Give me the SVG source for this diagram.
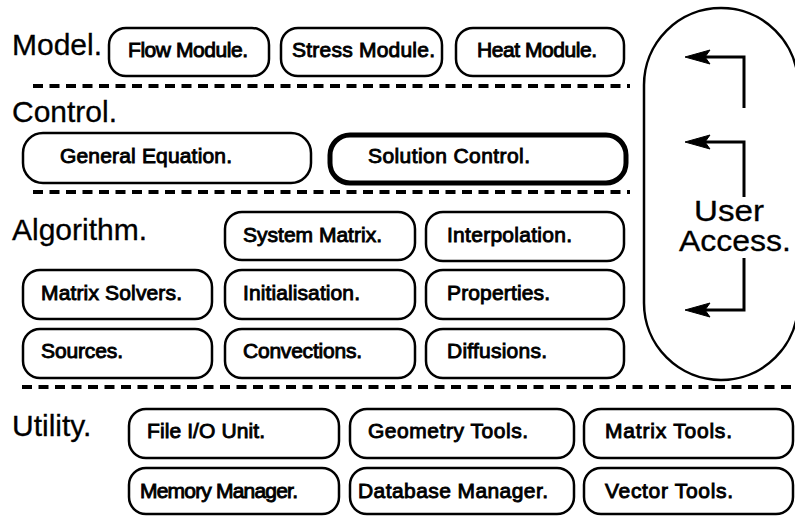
<svg xmlns="http://www.w3.org/2000/svg" xmlns:xlink="http://www.w3.org/1999/xlink" width="795" height="517" viewBox="0 0 795 517">
<defs>
<style>
.bg{fill:#fff}
.box{fill:#fff;stroke:#000;stroke-width:2.5}
.thick{fill:#fff;stroke:#000;stroke-width:5}
.t{font-family:"Liberation Sans",Arial,Helvetica,sans-serif;font-size:21px;fill:#000;stroke:#000;stroke-width:0.9}
.h{font-family:"Liberation Sans",Arial,Helvetica,sans-serif;font-size:30px;fill:#000;stroke:#000;stroke-width:0.3}
.dash{fill:none;stroke:#000;stroke-width:4;stroke-dasharray:10 6.5}
.conn{fill:none;stroke:#000;stroke-width:3}
.head{fill:#000;stroke:#000;stroke-width:1}
</style>
<path id="head" class="head" d="M0,0 L25,-7 L20,0 L25,7 Z"/>
</defs>
<rect class="bg" x="0" y="0" width="795" height="517"/>

<g id="layers">
<text class="h" x="12" y="55">Model.</text>
<text class="h" x="12" y="122">Control.</text>
<text class="h" x="12" y="240">Algorithm.</text>
<text class="h" x="12" y="436">Utility.</text>
<line class="dash" x1="33" y1="86" x2="630" y2="86"/>
<line class="dash" x1="33" y1="192" x2="630" y2="192"/>
<line class="dash" x1="22" y1="387" x2="795" y2="387"/>
</g>

<g id="flow-module"><rect class="box" x="109" y="28" width="160" height="48" rx="17"/><text class="t" x="128" y="57" textLength="120">Flow Module.</text></g>
<g id="stress-module"><rect class="box" x="281" y="28" width="161" height="48" rx="17"/><text class="t" x="292" y="57" textLength="143">Stress Module.</text></g>
<g id="heat-module"><rect class="box" x="456" y="28" width="168" height="48" rx="17"/><text class="t" x="477" y="57" textLength="120">Heat Module.</text></g>

<g id="general-equation"><rect class="box" x="23" y="133" width="288" height="50" rx="20"/><text class="t" x="60" y="163" textLength="172">General Equation.</text></g>
<g id="solution-control"><rect class="thick" x="330" y="135" width="296" height="48" rx="20"/><text class="t" x="368" y="163" textLength="162">Solution Control.</text></g>

<g id="system-matrix"><rect class="box" x="225" y="212" width="190" height="48" rx="17"/><text class="t" x="243" y="242" textLength="139">System Matrix.</text></g>
<g id="interpolation"><rect class="box" x="426" y="212" width="198" height="49" rx="17"/><text class="t" x="447" y="242" textLength="125">Interpolation.</text></g>
<g id="matrix-solvers"><rect class="box" x="23" y="270" width="189" height="49" rx="17"/><text class="t" x="41" y="300" textLength="141">Matrix Solvers.</text></g>
<g id="initialisation"><rect class="box" x="225" y="270" width="190" height="49" rx="17"/><text class="t" x="243" y="300" textLength="117">Initialisation.</text></g>
<g id="properties"><rect class="box" x="426" y="270" width="198" height="49" rx="17"/><text class="t" x="447" y="300" textLength="103">Properties.</text></g>
<g id="sources"><rect class="box" x="23" y="329" width="189" height="49" rx="17"/><text class="t" x="41" y="358" textLength="82">Sources.</text></g>
<g id="convections"><rect class="box" x="225" y="329" width="190" height="49" rx="17"/><text class="t" x="243" y="358" textLength="119">Convections.</text></g>
<g id="diffusions"><rect class="box" x="426" y="329" width="198" height="49" rx="17"/><text class="t" x="447" y="358" textLength="100">Diffusions.</text></g>

<g id="file-io-unit"><rect class="box" x="129" y="409" width="210" height="49" rx="17"/><text class="t" x="147" y="438" textLength="118">File I/O Unit.</text></g>
<g id="geometry-tools"><rect class="box" x="350" y="409" width="224" height="49" rx="17"/><text class="t" x="368" y="438" textLength="160">Geometry Tools.</text></g>
<g id="matrix-tools"><rect class="box" x="584" y="409" width="209" height="49" rx="17"/><text class="t" x="605" y="438" textLength="127">Matrix Tools.</text></g>
<g id="memory-manager"><rect class="box" x="129" y="468" width="210" height="46" rx="17"/><text class="t" x="140" y="498" textLength="158">Memory Manager.</text></g>
<g id="database-manager"><rect class="box" x="350" y="468" width="224" height="46" rx="17"/><text class="t" x="358" y="498" textLength="190">Database Manager.</text></g>
<g id="vector-tools"><rect class="box" x="584" y="468" width="209" height="46" rx="17"/><text class="t" x="605" y="498" textLength="128">Vector Tools.</text></g>

<g id="user-access">
<rect class="box" x="644" y="8" width="154" height="372" rx="77"/>
<text class="h" x="694" y="221" font-size="26" textLength="70" lengthAdjust="spacingAndGlyphs">User</text>
<text class="h" x="679" y="251" font-size="26" textLength="112" lengthAdjust="spacingAndGlyphs">Access.</text>
</g>

<g id="connectors">
<path class="conn" d="M744,108 V57 H703"/>
<use href="#head" xlink:href="#head" x="685" y="57"/>
<path class="conn" d="M744,197 V142 H703"/>
<use href="#head" xlink:href="#head" x="685" y="142"/>
<path class="conn" d="M744,258 V310 H703"/>
<use href="#head" xlink:href="#head" x="685" y="310"/>
</g>
</svg>
